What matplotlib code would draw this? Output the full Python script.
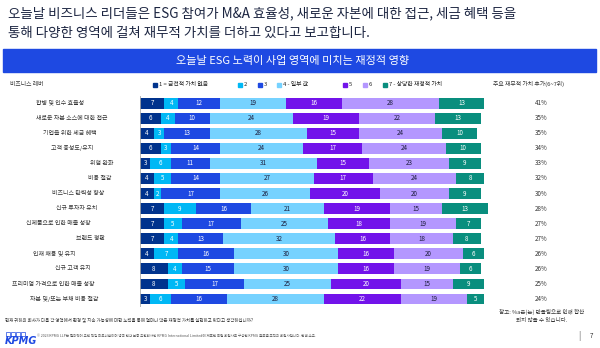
import matplotlib
matplotlib.use("Agg")
import matplotlib.pyplot as plt
from matplotlib.patches import Rectangle
from matplotlib.transforms import blended_transform_factory
import numpy as np

plt.rcParams['font.family'] = ['Noto Sans CJK KR', 'DejaVu Sans']

# data
levers = ["합병 및 인수 효율성", "새로운 자본 소스에 대한 접근", "기업을 위한 세금 혜택",
          "고객 충성도/유지", "위험 완화", "비용 절감", "비즈니스 탄력성 향상",
          "신규 투자자 유치", "신제품으로 인한 매출 성장", "브랜드 평판",
          "인재 채용 및 유지", "신규 고객 유지", "프리미엄 가격으로 인한 매출 성장",
          "자본 및/또는 부채 비용 절감"]
s1 = [7, 6, 4, 6, 3, 4, 4, 7, 7, 7, 4, 8, 8, 3]
s2 = [4, 4, 3, 3, 6, 5, 2, 9, 5, 4, 7, 4, 5, 6]
s3 = [12, 10, 13, 14, 11, 14, 17, 16, 17, 13, 16, 15, 17, 16]
s4 = [19, 24, 28, 24, 31, 27, 26, 21, 25, 32, 30, 30, 25, 28]
s5 = [16, 19, 15, 17, 15, 17, 20, 19, 18, 16, 16, 16, 20, 22]
s6 = [28, 22, 24, 24, 23, 24, 20, 15, 19, 18, 20, 19, 15, 19]
s7 = [13, 13, 10, 10, 9, 8, 9, 13, 7, 8, 6, 6, 9, 5]
top_pct = ["41%", "35%", "35%", "34%", "33%", "32%", "30%", "28%", "27%",
           "27%", "26%", "26%", "25%", "24%"]
legend_labels = ["1 = 금전적 가치 없음", "2", "3", "4 - 일부 값", "5", "6",
                 "7 - 상당한 재정적 가치"]

series = [s1, s2, s3, s4, s5, s6, s7]
colors = ["#00338D", "#00B8F5", "#1E49E2", "#76D2FF", "#7213EA", "#B497FF", "#098E7E"]
txt_colors = ["white", "white", "white", "#1b1b3a", "white", "#1b1b3a", "white"]

# layout (pixels from the left of a 600 px wide figure)
label_x = [60, 72, 70, 72, 102, 100, 78, 77, 58, 90, 54, 73, 53, 64]
legend_x = [153, 238, 258, 277, 343, 363, 383]

W, H = 600, 348
fig = plt.figure(figsize=(6, 3.48), dpi=100)

def fx(px):
    return px / W

def fy(py):
    return 1 - py / H

title_col = "#1c2541"
fig.text(fx(8), fy(13), "오늘날 비즈니스 리더들은 ESG 참여가 M&A 효율성, 새로운 자본에 대한 접근, 세금 혜택 등을",
         fontsize=9.7, color=title_col, va="center", ha="left")
fig.text(fx(8), fy(33), "통해 다양한 영역에 걸쳐 재무적 가치를 더하고 있다고 보고합니다.",
         fontsize=9.7, color=title_col, va="center", ha="left")

# banner
fig.patches.append(Rectangle((fx(3), fy(72)), fx(593), (72 - 49) / H,
                             transform=fig.transFigure, color="#1E49E2", zorder=0))
fig.text(fx(293), fy(61), "오늘날 ESG 노력이 사업 영역에 미치는 재정적 영향",
         fontsize=8, color="white", ha="center", va="center")

# header row
fig.text(fx(10), fy(84), "비즈니스 레버", fontsize=4.2, color="#333333", va="center")
fig.text(fx(493), fy(84), "주요 재무적 가치 추가(6~7위)", fontsize=4.2, color="#333333", va="center")
for lx, lab, c in zip(legend_x, legend_labels, colors):
    fig.patches.append(Rectangle((fx(lx), fy(86.5)), fx(4), 4 / H,
                                 transform=fig.transFigure, color=c))
    fig.text(fx(lx + 6), fy(84.3), lab, fontsize=4.2, color="#222222", va="center")

# bars
ax = fig.add_axes([fx(140), fy(306.6), 347.5 / W, 211 / H])
y = np.arange(len(levers))
left = np.zeros(len(levers))
for vals, c, tc in zip(series, colors, txt_colors):
    vals = np.array(vals)
    ax.barh(y, vals, left=left, height=0.72, color=c, linewidth=0)
    for yi, (l, v) in enumerate(zip(left, vals)):
        ax.text(l + v / 2, yi, str(v), ha="center", va="center", fontsize=4.5, color=tc)
    left = left + vals

ax.set_xlim(0, 100)
ax.set_ylim(len(levers) - 0.5, -0.5)
ax.axis("off")
ax.axvline(0, color="#aaaaaa", lw=0.6)

tr = blended_transform_factory(fig.transFigure, ax.transData)
for yi, (lab, lx, p) in enumerate(zip(levers, label_x, top_pct)):
    ax.text(fx(lx), yi, lab, transform=tr, ha="center", va="center",
            fontsize=4.3, color="#333333")
    ax.text(fx(541), yi, p, transform=tr, ha="center", va="center",
            fontsize=4.5, color="#333333")

# notes
fig.text(fx(542), fy(312), "참고: %a은(는) 반올림으로 인해 합산", fontsize=4, color="#333333",
         ha="center", va="center")
fig.text(fx(542), fy(320.5), "되지 않을 수 있습니다.", fontsize=4, color="#333333",
         ha="center", va="center")
fig.text(fx(5), fy(320), "현재 귀하의 회사가 다음 각 영역에서 환경 및 지속 가능성에 대한 노력을 통해 얼마나 많은 재정적 가치를 실현하고 있다고 생각하십니까?",
         fontsize=3.2, color="#333333", va="center")

# footer
for i in range(4):
    fig.patches.append(Rectangle((fx(6 + i * 5), fy(336)), fx(4.2), 4 / H,
                                 transform=fig.transFigure, fill=False,
                                 edgecolor="#1E49E2", lw=0.5))
fig.text(fx(5), fy(341), "KPMG", fontsize=7, color="#1E49E2", fontweight="bold",
         style="italic", va="center", family="DejaVu Sans")
fig.text(fx(37), fy(336), "© 2023 KPMG LLP는 델라웨어 유한 책임 파트너쉽이며 영국 민간 보증 유한회사인 KPMG International Limited에 제휴된 독립 회원사로 구성된 KPMG 글로벌 조직의 회원사입니다. 판권 소유.",
         fontsize=2.5, color="#555555", va="center")
fig.text(fx(578), fy(336), "|", fontsize=6, color="#555555", va="center")
fig.text(fx(590), fy(336), "7", fontsize=4.5, color="#333333", va="center")

fig.savefig("out.png", dpi=100)
